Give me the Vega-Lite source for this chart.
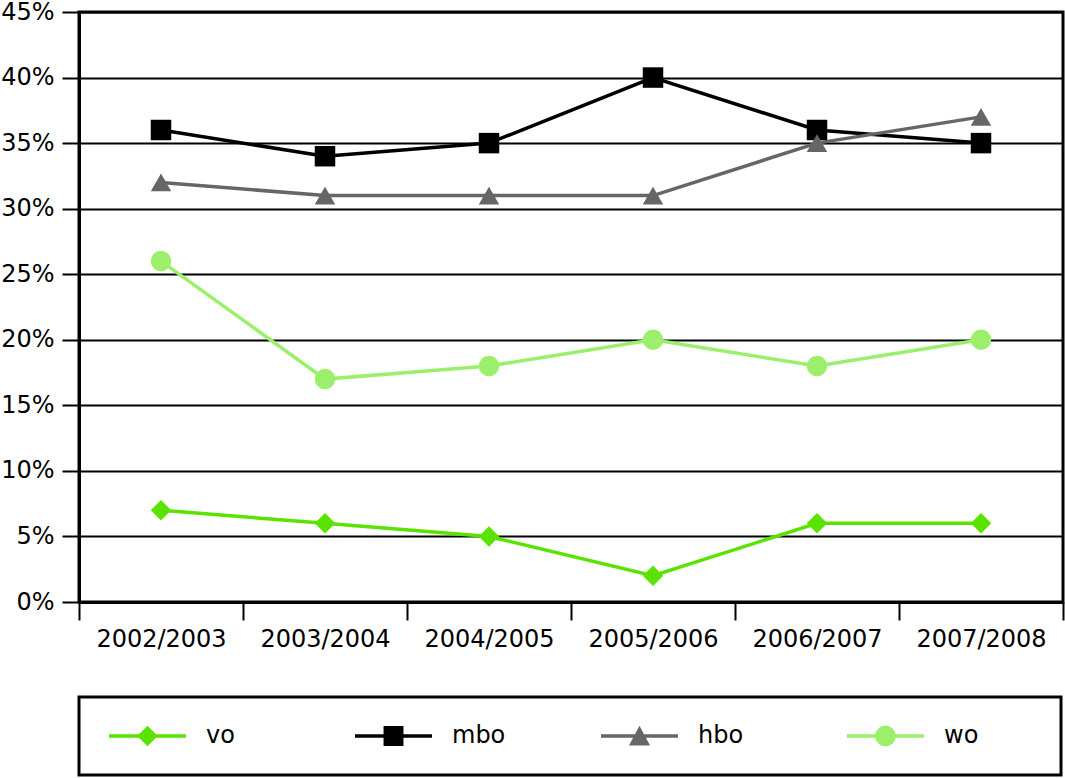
{
  "$schema": "https://vega.github.io/schema/vega-lite/v6.json",
  "width": 984,
  "height": 590,
  "autosize": {"type": "none"},
  "padding": {"left": 79, "top": 12, "right": 2, "bottom": 176},
  "background": "white",
  "config": {
    "view": {"stroke": "black", "strokeWidth": 3},
    "font": "DejaVu Sans",
    "legend": {"strokeWidth": 3}
  },
  "data": {
    "values": [
      {"year": "2002/2003", "series": "vo", "value": 0.07},
      {"year": "2003/2004", "series": "vo", "value": 0.06},
      {"year": "2004/2005", "series": "vo", "value": 0.05},
      {"year": "2005/2006", "series": "vo", "value": 0.02},
      {"year": "2006/2007", "series": "vo", "value": 0.06},
      {"year": "2007/2008", "series": "vo", "value": 0.06},
      {"year": "2002/2003", "series": "mbo", "value": 0.36},
      {"year": "2003/2004", "series": "mbo", "value": 0.34},
      {"year": "2004/2005", "series": "mbo", "value": 0.35},
      {"year": "2005/2006", "series": "mbo", "value": 0.40},
      {"year": "2006/2007", "series": "mbo", "value": 0.36},
      {"year": "2007/2008", "series": "mbo", "value": 0.35},
      {"year": "2002/2003", "series": "hbo", "value": 0.32},
      {"year": "2003/2004", "series": "hbo", "value": 0.31},
      {"year": "2004/2005", "series": "hbo", "value": 0.31},
      {"year": "2005/2006", "series": "hbo", "value": 0.31},
      {"year": "2006/2007", "series": "hbo", "value": 0.35},
      {"year": "2007/2008", "series": "hbo", "value": 0.37},
      {"year": "2002/2003", "series": "wo", "value": 0.26},
      {"year": "2003/2004", "series": "wo", "value": 0.17},
      {"year": "2004/2005", "series": "wo", "value": 0.18},
      {"year": "2005/2006", "series": "wo", "value": 0.20},
      {"year": "2006/2007", "series": "wo", "value": 0.18},
      {"year": "2007/2008", "series": "wo", "value": 0.20}
    ]
  },
  "resolve": {"scale": {"color": "independent", "shape": "independent"}},
  "layer": [
    {
      "mark": {"type": "line", "strokeWidth": 3.5},
      "encoding": {
        "x": {
          "field": "year", "type": "nominal",
          "scale": {"type": "band", "paddingInner": 0, "paddingOuter": 0},
          "axis": {
            "title": null, "labelAngle": 0, "tickBand": "extent",
            "tickSize": 18, "tickWidth": 2, "tickColor": "black",
            "domainColor": "black", "domainWidth": 3,
            "labelFont": "DejaVu Sans", "labelFontSize": 24, "labelColor": "black",
            "labelPadding": 7, "grid": false
          }
        },
        "y": {
          "field": "value", "type": "quantitative",
          "scale": {"domain": [0, 0.45], "nice": false},
          "axis": {
            "title": null, "format": ".0%",
            "values": [0, 0.05, 0.1, 0.15, 0.2, 0.25, 0.3, 0.35, 0.4, 0.45],
            "grid": true, "gridColor": "black", "gridWidth": 1.8, "gridOpacity": 1,
            "tickSize": 17, "tickWidth": 2, "tickColor": "black",
            "domainColor": "black", "domainWidth": 3,
            "labelFont": "DejaVu Sans", "labelFontSize": 24, "labelColor": "black",
            "labelPadding": 8
          }
        },
        "color": {
          "field": "series", "type": "nominal", "legend": null,
          "scale": {"domain": ["vo", "mbo", "hbo", "wo"], "range": ["#5ae200", "#000000", "#666666", "#9cef6a"]}
        }
      }
    },
    {
      "mark": {"type": "point", "filled": true, "opacity": 1, "size": 420, "strokeWidth": 0},
      "encoding": {
        "x": {"field": "year", "type": "nominal"},
        "y": {"field": "value", "type": "quantitative"},
        "color": {
          "field": "series", "type": "nominal", "legend": null,
          "scale": {"domain": ["vo", "mbo", "hbo", "wo"], "range": ["#5ae200", "#000000", "#666666", "#9cef6a"]}
        },
        "shape": {
          "field": "series", "type": "nominal", "legend": null,
          "scale": {"domain": ["vo", "mbo", "hbo", "wo"], "range": ["diamond", "square", "triangle-up", "circle"]}
        }
      }
    },
    {
      "data": {"values": []},
      "mark": {"type": "point", "filled": true, "opacity": 1, "strokeWidth": 0},
      "encoding": {
        "color": {
          "field": "series", "type": "nominal",
          "scale": {"domain": ["vo", "mbo", "hbo", "wo"], "range": ["#5ae200", "#000000", "#666666", "#9cef6a"]},
          "legend": {
            "title": null, "orient": "none", "legendX": 0, "legendY": 685,
            "direction": "horizontal", "columns": 4, "gridAlign": "all",
            "columnPadding": 55, "padding": 27,
            "strokeColor": "black", "fillColor": "white",
            "labelFont": "DejaVu Sans", "labelFontSize": 24, "labelColor": "black",
            "labelOffset": 46.5, "symbolSize": 576, "symbolOffset": 29.5, "symbolStrokeWidth": 0,
            "symbolOpacity": 1
          }
        },
        "shape": {
          "field": "series", "type": "nominal",
          "scale": {
            "domain": ["vo", "mbo", "hbo", "wo"],
            "range": [
              "M-3.208,-0.146H3.208V0.146H-3.208Z M0,-0.86L0.86,0L0,0.86L-0.86,0Z M-3.54,0L-3.53,0Z M12.30,0L12.31,0Z",
              "M-3.208,-0.146H3.208V0.146H-3.208Z M-0.83,-0.83H0.83V0.83H-0.83Z M-3.54,0L-3.53,0Z M12.30,0L12.31,0Z",
              "M-3.208,-0.146H3.208V0.146H-3.208Z M0,-0.86L0.88,0.79L-0.88,0.79Z M-3.54,0L-3.53,0Z M12.30,0L12.31,0Z",
              "M-3.208,-0.146H3.208V0.146H-3.208Z M0.86,0C0.86,0.475 0.475,0.86 0,0.86C-0.475,0.86 -0.86,0.475 -0.86,0C-0.86,-0.475 -0.475,-0.86 0,-0.86C0.475,-0.86 0.86,-0.475 0.86,0Z M-3.54,0L-3.53,0Z M12.30,0L12.31,0Z"
            ]
          },
          "legend": {
            "title": null, "orient": "none", "legendX": 0, "legendY": 685,
            "direction": "horizontal", "columns": 4, "gridAlign": "all",
            "columnPadding": 55, "padding": 27,
            "strokeColor": "black", "fillColor": "white",
            "labelFont": "DejaVu Sans", "labelFontSize": 24, "labelColor": "black",
            "labelOffset": 46.5, "symbolSize": 576, "symbolOffset": 29.5, "symbolStrokeWidth": 0,
            "symbolOpacity": 1
          }
        }
      }
    }
  ]
}
